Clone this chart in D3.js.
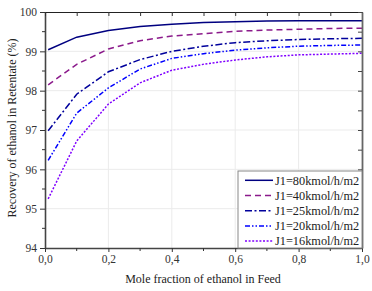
<!DOCTYPE html>
<html><head><meta charset="utf-8">
<script src="https://cdn.jsdelivr.net/npm/d3@7"></script>
<style>body{margin:0;background:#fff}svg{display:block}</style>
</head><body><svg id="c" width="372" height="291"></svg>
<script>
const xValues = [0.01, 0.1, 0.2, 0.3, 0.4, 0.5, 0.6, 0.7, 0.8, 0.9, 1.0];
const seriesNames = ["J1=80kmol/h/m2","J1=40kmol/h/m2","J1=25kmol/h/m2","J1=20kmol/h/m2","J1=16kmol/h/m2"];
const j80 = [99.04, 99.36, 99.53, 99.63, 99.69, 99.73, 99.75, 99.77, 99.78, 99.78, 99.78];
const j40 = [98.15, 98.67, 99.06, 99.27, 99.39, 99.45, 99.51, 99.54, 99.56, 99.58, 99.59];
const j25 = [96.98, 97.91, 98.48, 98.79, 99.00, 99.13, 99.22, 99.27, 99.30, 99.32, 99.33];
const j20 = [96.23, 97.43, 98.07, 98.55, 98.82, 98.94, 99.03, 99.09, 99.13, 99.15, 99.16];
const j16 = [95.25, 96.72, 97.66, 98.20, 98.52, 98.67, 98.78, 98.86, 98.91, 98.93, 98.95];
const xTicks = [0, 0.2, 0.4, 0.6, 0.8, 1.0];
const yTicks = [94, 95, 96, 97, 98, 99, 100];

const FONT = "'Liberation Serif', 'Times New Roman', 'Liberation Sans', Arial, sans-serif";
const colors = ["#000080", "#8b1a8b", "#00009c", "#0000ff", "#8000ff"];
const dashes = ["none", "6,4", "7,2.5,2,2.5", "5,2,1.5,2,1.5,2", "2,1.6"];
const allSeries = [j80, j40, j25, j20, j16];

const svg = d3.select("#c");
const L = 45, R = 362, T = 12, B = 248;
const x = d3.scaleLinear().domain([0, 1]).range([L, R]);
const y = d3.scaleLinear().domain([94, 100]).range([B, T]);
const fmt = d => d3.format(".1f")(d).replace(".", ",");

// grid
const g = svg.append("g");
g.selectAll(".gx").data(xTicks.slice(1, -1)).enter().append("line")
  .attr("x1", d => x(d)).attr("x2", d => x(d)).attr("y1", T).attr("y2", B)
  .attr("stroke", "#ebebeb").attr("stroke-width", 1);
g.selectAll(".gy").data(yTicks.slice(1, -1)).enter().append("line")
  .attr("y1", d => y(d)).attr("y2", d => y(d)).attr("x1", L).attr("x2", R)
  .attr("stroke", "#ebebeb").attr("stroke-width", 1);

// lines
const line = d3.line().x((d, i) => x(xValues[i])).y(d => y(d));
allSeries.forEach((s, k) => {
  svg.append("path").datum(s).attr("d", line).attr("fill", "none")
    .attr("stroke", colors[k]).attr("stroke-width", 1.5)
    .attr("stroke-dasharray", dashes[k]);
});

// axes
const minorX = d3.range(0, 1.0001, 0.1);
const minorY = d3.range(94, 100.001, 0.5);
const axB = svg.append("g").attr("transform", `translate(0,${B})`)
  .call(d3.axisBottom(x).tickValues(xTicks).tickFormat(fmt).tickSize(4).tickSizeOuter(0));
const axL = svg.append("g").attr("transform", `translate(${L},0)`)
  .call(d3.axisLeft(y).tickValues(yTicks).tickFormat(d3.format("d")).tickSize(5).tickSizeOuter(0));
const axT = svg.append("g").attr("transform", `translate(0,${T})`)
  .call(d3.axisBottom(x).tickValues(minorX).tickFormat("").tickSize(4).tickSizeOuter(0));
const axR = svg.append("g").attr("transform", `translate(${R},0)`)
  .call(d3.axisLeft(y).tickValues(minorY).tickFormat("").tickSize(4).tickSizeOuter(0));
axB.selectAll(".mt").data(minorX.filter((d,i) => i % 2 === 1)).enter().append("line")
  .attr("x1", d => x(d)).attr("x2", d => x(d)).attr("y1", 0).attr("y2", 3).attr("stroke", "#333");
axL.selectAll(".mt").data(minorY.filter((d,i) => i % 2 === 1)).enter().append("line")
  .attr("y1", d => y(d)).attr("y2", d => y(d)).attr("x1", 0).attr("x2", -3).attr("stroke", "#333");

[axB, axL].forEach(a => {
  a.attr("font-family", null);
  a.select(".domain").attr("stroke", "#444").attr("stroke-width", 1.6);
  a.selectAll(".tick line").attr("stroke", "#333");
  a.selectAll("text").attr("font-size", 11.5).attr("fill", "#333")
    .style("font-family", FONT);
});
axB.selectAll(".tick text").attr("dy", "0.9em").attr("y", 5);
axL.selectAll(".tick text").attr("x", -8);
axT.select(".domain").attr("stroke", "#222").attr("stroke-width", 1.2);
axT.selectAll(".tick line").attr("stroke", "#333");
axR.select(".domain").attr("stroke", "#666").attr("stroke-width", 1.8);
axR.selectAll(".tick line").attr("stroke", "#444");

// titles
svg.append("text").attr("x", 203).attr("y", 283).attr("text-anchor", "middle")
  .style("font-family", FONT).attr("font-size", 12).attr("fill", "#222").text("Mole fraction of ethanol in Feed");
svg.append("text").attr("transform", `translate(12,128) rotate(-90)`)
  .attr("text-anchor", "middle").attr("dy", "0.35em").style("font-family", FONT)
  .attr("font-size", 12).attr("fill", "#222").text("Recovery of ethanol in Retentate (%)");

// legend
const lx = 238, ly = 171;
svg.append("rect").attr("x", lx).attr("y", ly).attr("width", R - lx).attr("height", B - ly)
  .attr("fill", "#fff").attr("stroke", "#888").attr("stroke-width", 1);
seriesNames.forEach((n, k) => {
  const yy = ly + 9.3 + k * 15.2;
  svg.append("line").attr("x1", lx + 7).attr("x2", lx + 35).attr("y1", yy).attr("y2", yy)
    .attr("stroke", colors[k]).attr("stroke-width", 1.5).attr("stroke-dasharray", dashes[k]);
  svg.append("text").attr("x", lx + 37).attr("y", yy).attr("dy", "0.35em").style("font-family", FONT)
    .attr("font-size", 12.3).attr("fill", "#222").text(n);
});
</script></body></html>
